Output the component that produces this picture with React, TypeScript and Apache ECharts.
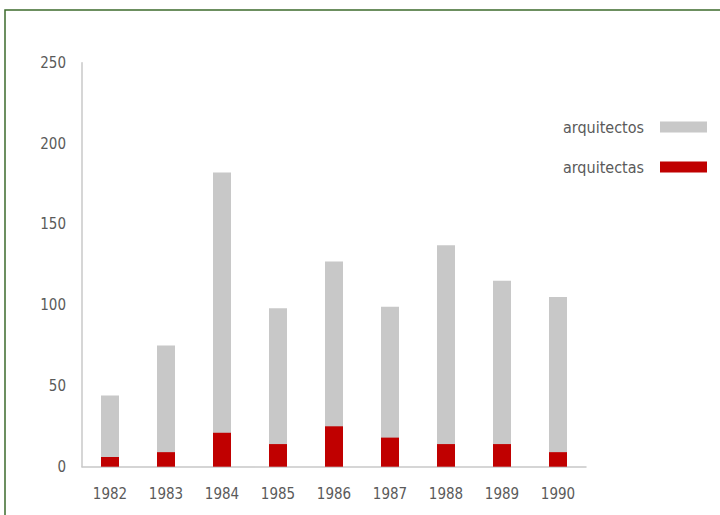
import React, { useEffect, useRef } from "react";
import * as echarts from "echarts";

const years = ["1982", "1983", "1984", "1985", "1986", "1987", "1988", "1989", "1990"];
const arquitectos = [44, 75, 182, 98, 127, 99, 137, 115, 105];
const arquitectas = [6, 9, 21, 14, 25, 18, 14, 14, 9];
const yTicks = { min: 0, max: 250, interval: 50 };

const FONT = "'Liberation Sans Narrow', 'DejaVu Sans Condensed', 'Roboto', sans-serif";

export default function App() {
  const ref = useRef<HTMLDivElement>(null);
  useEffect(() => {
    if (!ref.current) return;
    const chart = echarts.init(ref.current, undefined, { renderer: "svg" });
    chart.setOption({
      animation: false,
      backgroundColor: "#ffffff",
      graphic: [
        {
          type: "rect",
          shape: { x: 5, y: 10, width: 730, height: 530 },
          style: { fill: "none", stroke: "#3d6b2c", lineWidth: 1.5 },
          z: 100,
        },
      ],
      grid: { left: 82, right: 134, top: 62.7, bottom: 48.3, containLabel: false },
      legend: {
        orient: "vertical",
        right: 8,
        top: 114,
        align: "right",
        itemWidth: 47,
        itemHeight: 11,
        itemGap: 24,
        icon: "rect",
        textStyle: { fontFamily: FONT, fontSize: 16, color: "#5a5a5a", padding: [0, 11, 0, 0] },
        data: ["arquitectos", "arquitectas"],
      },
      xAxis: {
        type: "category",
        data: years,
        axisLine: { show: true, lineStyle: { color: "#c8c8c8", width: 1.5 } },
        axisTick: { show: false },
        axisLabel: { fontFamily: FONT, fontSize: 15, color: "#5a5a5a", margin: 20 },
      },
      yAxis: {
        type: "value",
        min: yTicks.min,
        max: yTicks.max,
        interval: yTicks.interval,
        axisLine: { show: true, lineStyle: { color: "#c8c8c8", width: 1.5 } },
        axisTick: { show: false },
        splitLine: { show: false },
        axisLabel: { fontFamily: FONT, fontSize: 15, color: "#5a5a5a", margin: 16 },
      },
      series: [
        {
          name: "arquitectos",
          type: "bar",
          data: arquitectos,
          barWidth: 18,
          barGap: "-100%",
          itemStyle: { color: "#c8c8c8" },
        },
        {
          name: "arquitectas",
          type: "bar",
          data: arquitectas,
          barWidth: 18,
          barGap: "-100%",
          itemStyle: { color: "#c00000" },
        },
      ],
    });
    return () => chart.dispose();
  }, []);
  return (
    <div
      ref={ref}
      style={{ position: "fixed", left: 0, top: 0, width: 720, height: 515 }}
    />
  );
}
